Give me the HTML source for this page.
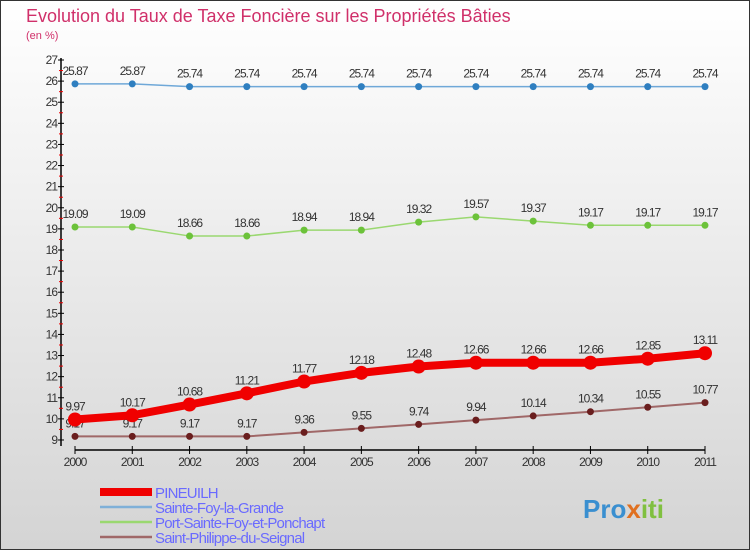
<!DOCTYPE html>
<html><head><meta charset="utf-8"><style>
body{margin:0}
#c{width:750px;height:550px;position:relative;overflow:hidden;font-family:"Liberation Sans",sans-serif}
svg text{font-family:"Liberation Sans",sans-serif}
</style></head><body>
<div id="c">
<svg id="s" width="750" height="550" xmlns="http://www.w3.org/2000/svg">
<defs><linearGradient id="bg" x1="0" y1="0" x2="0" y2="1"><stop offset="0" stop-color="#ffffff"/><stop offset="1" stop-color="#d4d4d4"/></linearGradient></defs>
<rect x="0.5" y="0.5" width="749" height="549" fill="url(#bg)" stroke="#333"/>
<text x="26" y="22" font-size="18" fill="#d0306a">Evolution du Taux de Taxe Foncière sur les Propriétés Bâties</text>
<text x="26" y="39" font-size="11" fill="#d0306a">(en %)</text>
<g id="axes"></g><g id="series"></g><g id="legend"></g>
<text x="583" y="518" font-size="26" font-weight="bold" fill="#3a8fd0">Pro<tspan fill="#e07020">x</tspan><tspan fill="#80c040">iti</tspan></text>
</svg>
</div>
<script>
const years=["2000","2001","2002","2003","2004","2005","2006","2007","2008","2009","2010","2011"];
const yTicks=[9,10,11,12,13,14,15,16,17,18,19,20,21,22,23,24,25,26,27];
const pineuilh=[9.97,10.17,10.68,11.21,11.77,12.18,12.48,12.66,12.66,12.66,12.85,13.11];
const sainteFoy=[25.87,25.87,25.74,25.74,25.74,25.74,25.74,25.74,25.74,25.74,25.74,25.74];
const portSainte=[19.09,19.09,18.66,18.66,18.94,18.94,19.32,19.57,19.37,19.17,19.17,19.17];
const saintPhilippe=[9.17,9.17,9.17,9.17,9.36,9.55,9.74,9.94,10.14,10.34,10.55,10.77];
const seriesNames=["PINEUILH","Sainte-Foy-la-Grande","Port-Sainte-Foy-et-Ponchapt","Saint-Philippe-du-Seignal"];
const NS="http://www.w3.org/2000/svg";
const X=i=>75+i*(630/(years.length-1));
const Y=v=>60+(27-v)*21.11;
function mk(tag,at,parent){const e=document.createElementNS(NS,tag);for(const k in at)e.setAttribute(k,at[k]);parent.appendChild(e);return e;}
const ax=document.getElementById('axes');
let e=mk('line',{x1:61,y1:58,x2:61,y2:446,stroke:'#000','stroke-width':1.5},ax);


e=mk('line',{x1:75,y1:450,x2:705,y2:450,stroke:'#000','stroke-width':1.5},ax);


yTicks.forEach(v=>{
 mk('line',{x1:58,y1:Y(v),x2:64,y2:Y(v),stroke:'#000'},ax);
 if(v<27)mk('line',{x1:59,y1:Y(v+0.5),x2:63,y2:Y(v+0.5),stroke:'#e00'},ax);
 const t=mk('text',{x:57,y:Y(v)+4,'font-size':12,'text-anchor':'end',fill:'#333','letter-spacing':'-1'},ax);
 t.textContent=v;
 
 
});
years.forEach((y,i)=>{
 mk('line',{x1:X(i),y1:446,x2:X(i),y2:454,stroke:'#000'},ax);
 const t=mk('text',{x:X(i),y:466,'font-size':12,'text-anchor':'middle',fill:'#333','letter-spacing':'-1'},ax);
 t.textContent=y;
 
 
});
const sg=document.getElementById('series');
function draw(vals,color,dot,lw,r,name){
 const g=mk('g',{},sg);
 
 
 mk('polyline',{points:vals.map((v,i)=>X(i)+','+Y(v)).join(' '),fill:'none',stroke:color,'stroke-width':lw},g);
 vals.forEach((v,i)=>{
  const c=mk('circle',{cx:X(i),cy:Y(v),r:r,fill:dot},g);
  
  
  const t=mk('text',{x:X(i),y:Y(v)-9,'font-size':12,'text-anchor':'middle',fill:'#333','letter-spacing':'-1'},g);
  t.textContent=v;
  
  
 });
}
draw(sainteFoy,'#6fa8d8','#2f7fc0',1.5,3.5,'series-sainte-foy');
draw(portSainte,'#9ad870','#6cc23a',1.5,3.5,'series-port-sainte-foy');
draw(saintPhilippe,'#a06868','#6a1e1e',2,3.5,'series-saint-philippe');
draw(pineuilh,'#f00000','#f00000',8,7,'series-pineuilh');
const lg=document.getElementById('legend');
const lc=['#f00000','#7fb0d8','#9ad870','#a06868'],lw=[8,2.5,2.5,2.5],ly=[492,507,522,537];
seriesNames.forEach((n,i)=>{
 const g=mk('g',{},lg);
 
 
 mk('line',{x1:100,y1:ly[i],x2:152,y2:ly[i],stroke:lc[i],'stroke-width':lw[i]},g);
 const t=mk('text',{x:155,y:ly[i]+6,'font-size':15,fill:'#6a6aff','letter-spacing':'-0.8'},g);
 t.textContent=n;
});
</script>
</body></html>
